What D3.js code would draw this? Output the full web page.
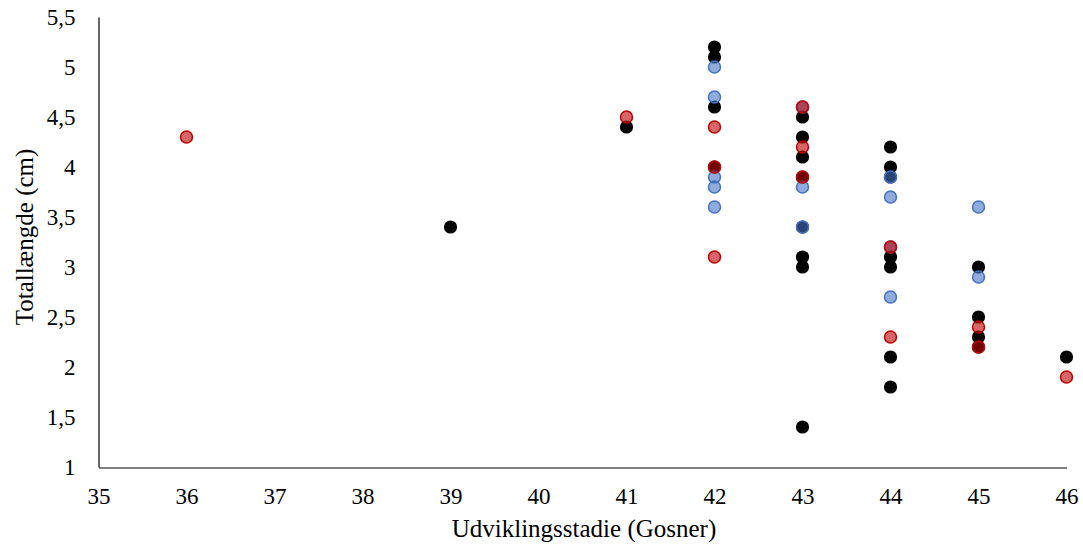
<!DOCTYPE html>
<html><head><meta charset="utf-8">
<script src="https://cdn.jsdelivr.net/npm/d3@7"></script>
<style>body{margin:0;background:#fff}svg{display:block}</style>
</head><body><svg id="c" width="1083" height="549"></svg>
<script>
const xTicks = [35,36,37,38,39,40,41,42,43,44,45,46];
const yTicks = [1,1.5,2,2.5,3,3.5,4,4.5,5,5.5];
const blackX = [39,41,42,42,42,42,43,43,43,43,43,43,43,43,44,44,44,44,44,44,44,45,45,45,45,46];
const blackY = [3.4,4.4,5.2,5.1,4.6,4.0,4.5,4.3,4.1,3.9,3.4,3.1,3.0,1.4,4.2,4.0,3.9,3.1,3.0,2.1,1.8,3.0,2.5,2.3,2.2,2.1];
const blueX = [42,42,42,42,42,43,43,43,44,44,44,44,45,45];
const blueY = [5.0,4.7,3.9,3.8,3.6,3.8,3.4,4.6,3.9,3.7,2.7,3.2,3.6,2.9];
const redX = [36,41,42,42,42,43,43,43,44,44,45,45,46];
const redY = [4.3,4.5,4.4,4.0,3.1,4.6,4.2,3.9,3.2,2.3,2.4,2.2,1.9];
const xTitle = "Udviklingsstadie (Gosner)";
const yTitle = "Totallængde (cm)";

const FONT = '"Times New Roman","Liberation Serif",Times,"DejaVu Serif","Noto Serif",serif';
const svg = d3.select("#c");
const x = d3.scaleLinear().domain([35,46]).range([98.5,1066.5]);
const y = d3.scaleLinear().domain([1,5.5]).range([467,17]);
const fmt = d => String(d).replace(".", ",");

const gx = svg.append("g").attr("transform","translate(0,467.5)")
  .call(d3.axisBottom(x).tickValues(xTicks).tickFormat(fmt).tickSize(0).tickPadding(20));
const gy = svg.append("g").attr("transform","translate(98.5,0)")
  .call(d3.axisLeft(y).tickValues(yTicks).tickFormat(fmt).tickSize(0).tickPadding(23));
[gx,gy].forEach(g=>{
  g.attr("font-family",FONT).attr("font-size",23);
  g.select(".domain").attr("stroke","#000").attr("stroke-width",1.2);
  g.selectAll("text").attr("font-family",FONT).attr("font-size",23).attr("fill","#000");
});
gx.selectAll("text").attr("dy","0.71em");

function series(xs, ys, fill, stroke, op){
  svg.append("g").selectAll("circle").data(xs.map((d,i)=>[d,ys[i]])).join("circle")
    .attr("cx",d=>x(d[0])).attr("cy",d=>y(d[1])).attr("r",stroke==="none"?6.6:6)
    .attr("fill",fill).attr("fill-opacity",op)
    .attr("stroke",stroke).attr("stroke-width",stroke==="none"?0:1.5);
}
series(blackX, blackY, "#000", "none", 1);
series(blueX, blueY, "#4472c4", "#4472c4", 0.6);
series(redX, redY, "#c00000", "#c00000", 0.6);

svg.append("text").attr("x",584).attr("y",537).attr("text-anchor","middle")
  .attr("font-family",FONT).attr("font-size",25).attr("fill","#000").text(xTitle);
svg.append("text").attr("transform","translate(33,237) rotate(-90)").attr("text-anchor","middle")
  .attr("font-family",FONT).attr("font-size",25).attr("fill","#000").text(yTitle);
</script></body></html>
